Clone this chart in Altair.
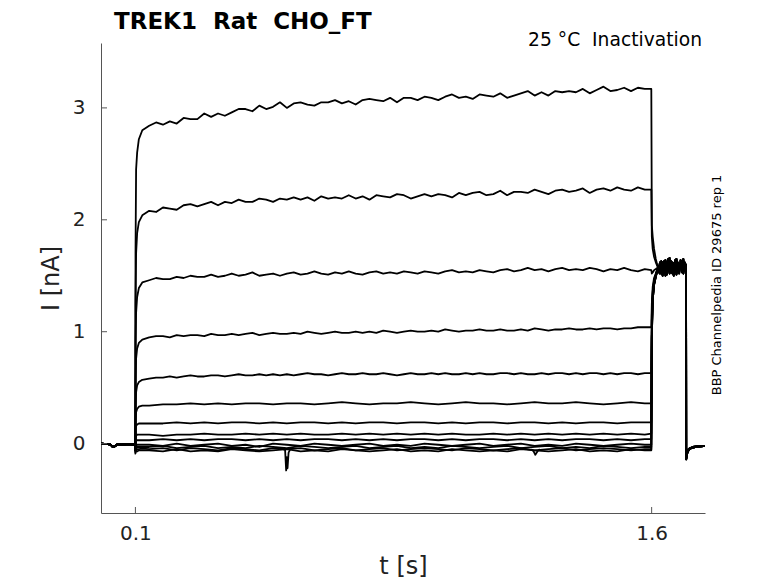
import altair as alt
import pandas as pd

# ---------------- data ----------------
NB = "\u00a0"
title_text = "TREK1" + NB * 2 + "Rat" + NB * 2 + "CHO_FT"
subtitle_text = "25 °C" + NB * 2 + "Inactivation"
side_text = "BBP Channelpedia ID 29675 rep 1"
x_ticks = [0.1, 1.6]
y_ticks = [0, 1, 2, 3]

# holding period before the step (shared by all sweeps)
pre_t = [0.0, 0.02, 0.028, 0.034, 0.04, 0.048, 0.06, 0.08, 0.0995]
pre_v = [0.0, -0.005, -0.01, -0.03, -0.025, -0.005, -0.01, -0.005, -0.01]

# activation onset
onset_t = [0.1, 0.1003, 0.102, 0.105, 0.11, 0.12]

# main step: fine sweeps sampled every 0.02 s from 0.14 s, coarse sweeps every 0.04 s
main_start = 0.14

sweep1 = [2.84, 2.87, 2.85, 2.88, 2.86, 2.91, 2.90, 2.90, 2.95, 2.92,
          2.95, 2.93, 2.96, 2.99, 2.99, 2.97, 3.02, 2.99, 3.01, 3.05,
          3.00, 3.04, 3.05, 3.03, 3.02, 3.05, 3.05, 3.07, 3.04, 3.06,
          3.03, 3.07, 3.08, 3.07, 3.06, 3.09, 3.05, 3.09, 3.09, 3.07,
          3.10, 3.09, 3.07, 3.10, 3.12, 3.09, 3.10, 3.08, 3.12, 3.11,
          3.10, 3.13, 3.09, 3.11, 3.13, 3.15, 3.11, 3.14, 3.11, 3.15,
          3.14, 3.15, 3.14, 3.17, 3.13, 3.16, 3.19, 3.15, 3.16, 3.18,
          3.15, 3.18, 3.17]
sweep2 = [2.08, 2.07, 2.11, 2.10, 2.09, 2.13, 2.14, 2.12, 2.14, 2.16,
          2.13, 2.16, 2.15, 2.18, 2.16, 2.16, 2.19, 2.18, 2.16, 2.19,
          2.18, 2.20, 2.18, 2.20, 2.17, 2.21, 2.19, 2.20, 2.19, 2.22,
          2.19, 2.21, 2.18, 2.22, 2.21, 2.20, 2.23, 2.22, 2.19, 2.21,
          2.23, 2.21, 2.23, 2.22, 2.20, 2.24, 2.22, 2.24, 2.25, 2.22,
          2.23, 2.26, 2.22, 2.25, 2.25, 2.24, 2.27, 2.25, 2.23, 2.26,
          2.27, 2.25, 2.26, 2.28, 2.24, 2.27, 2.28, 2.26, 2.29, 2.27,
          2.26, 2.29, 2.27]
sweep3 = [1.46, 1.48, 1.47, 1.47, 1.49, 1.48, 1.50, 1.49, 1.49, 1.51,
          1.49, 1.50, 1.52, 1.50, 1.51, 1.53, 1.50, 1.51, 1.52, 1.50,
          1.52, 1.53, 1.51, 1.52, 1.54, 1.52, 1.51, 1.53, 1.52, 1.54,
          1.52, 1.51, 1.53, 1.54, 1.52, 1.53, 1.52, 1.54, 1.53, 1.52,
          1.54, 1.53, 1.52, 1.54, 1.55, 1.53, 1.54, 1.53, 1.55, 1.54,
          1.53, 1.55, 1.56, 1.54, 1.55, 1.57, 1.55, 1.56, 1.54, 1.56,
          1.57, 1.55, 1.56, 1.55, 1.57, 1.56, 1.54, 1.56, 1.55, 1.57,
          1.55, 1.54, 1.56]
sweep4 = [0.95, 0.96, 0.96, 0.95, 0.97, 0.96, 0.97, 0.97, 0.96, 0.98,
          0.97, 0.97, 0.98, 0.97, 0.98, 0.99, 0.97, 0.98, 0.99, 0.98,
          0.98, 0.99, 0.98, 1.00, 0.99, 0.98, 0.99, 1.00, 0.99, 0.99,
          1.00, 0.99, 1.00, 0.99, 1.01, 1.00, 0.99, 1.00, 1.01, 1.00,
          1.00, 1.01, 1.00, 1.02, 1.01, 1.00, 1.01, 1.01, 1.02, 1.01,
          1.01, 1.02, 1.01, 1.01, 1.02, 1.01, 1.03, 1.02, 1.01, 1.02,
          1.02, 1.03, 1.02, 1.02, 1.03, 1.02, 1.03, 1.03, 1.02, 1.03,
          1.03, 1.04, 1.04]
sweep5 = [0.58, 0.59, 0.59, 0.60, 0.59, 0.60, 0.61, 0.60, 0.60, 0.61,
          0.61, 0.60, 0.61, 0.62, 0.61, 0.61, 0.62, 0.61, 0.62, 0.61,
          0.62, 0.61, 0.62, 0.63, 0.62, 0.62, 0.61, 0.62, 0.63, 0.62,
          0.62, 0.63, 0.62, 0.62, 0.63, 0.62, 0.61, 0.62, 0.63, 0.62,
          0.62, 0.63, 0.62, 0.63, 0.62, 0.62, 0.63, 0.62, 0.63, 0.62,
          0.62, 0.63, 0.63, 0.62, 0.63, 0.62, 0.62, 0.63, 0.62, 0.63,
          0.63, 0.62, 0.63, 0.62, 0.63, 0.63, 0.62, 0.63, 0.62, 0.63,
          0.63, 0.62, 0.63]
sweep6 = [0.34, 0.35, 0.35, 0.36, 0.35, 0.36, 0.35, 0.36, 0.36, 0.35,
          0.36, 0.36, 0.35, 0.36, 0.37, 0.36, 0.35, 0.36, 0.36, 0.37,
          0.36, 0.35, 0.36, 0.37, 0.36, 0.36, 0.35, 0.36, 0.37, 0.36,
          0.36, 0.37, 0.36, 0.35, 0.36, 0.37, 0.36]
sweep7 = [0.18, 0.18, 0.19, 0.18, 0.19, 0.18, 0.19, 0.19, 0.18, 0.19,
          0.18, 0.19, 0.19, 0.18, 0.19, 0.18, 0.19, 0.19, 0.18, 0.19,
          0.19, 0.18, 0.19, 0.18, 0.19, 0.19, 0.18, 0.19, 0.19, 0.18,
          0.19, 0.18, 0.19, 0.19, 0.18, 0.19, 0.19]
sweep8 = [0.08, 0.07, 0.08, 0.08, 0.09, 0.08, 0.08, 0.09, 0.08, 0.09,
          0.08, 0.09, 0.08, 0.08, 0.09, 0.08, 0.09, 0.08, 0.09, 0.08,
          0.09, 0.08, 0.09, 0.08, 0.08, 0.09, 0.08, 0.09, 0.08, 0.09,
          0.08, 0.09, 0.08, 0.09, 0.08, 0.09, 0.08]
sweep9 = [0.03, 0.04, 0.03, 0.04, 0.03, 0.04, 0.04, 0.03, 0.04, 0.03,
          0.04, 0.03, 0.04, 0.04, 0.03, 0.04, 0.03, 0.04, 0.03, 0.04,
          0.04, 0.03, 0.04, 0.03, 0.04, 0.04, 0.03, 0.04, 0.03, 0.04,
          0.03, 0.04, 0.04, 0.03, 0.04, 0.03, 0.04]
sweep10 = [-0.01, -0.02, 0.00, -0.02, -0.01, 0.00, -0.02, -0.01, -0.03, 0.00,
           -0.01, -0.02, 0.00, -0.01, -0.02, -0.01, 0.00, -0.02, -0.01, -0.02,
           0.00, -0.01, -0.02, -0.01, 0.00, -0.02, -0.01, 0.00, -0.02, -0.01,
           -0.02, 0.00, -0.01, -0.02, -0.01, 0.00, -0.01]
sweep11 = [-0.03, -0.02, -0.04, -0.03, -0.02, -0.04, -0.03, -0.04, -0.02, -0.03,
           -0.04, -0.02, -0.03, -0.04, -0.03, -0.02, -0.04, -0.03, -0.02, -0.04,
           -0.03, -0.04, -0.02, -0.03, -0.04, -0.03, -0.02, -0.04, -0.03, -0.02,
           -0.04, -0.03, -0.04, -0.02, -0.03, -0.04, -0.03]
sweep12 = [-0.05, -0.04, -0.06, -0.04, -0.05, -0.06, -0.04, -0.05, -0.06, -0.04,
           -0.05, -0.04, -0.06, -0.05, -0.04, -0.06, -0.05, -0.04, -0.06, -0.05,
           -0.04, -0.05, -0.06, -0.04, -0.05, -0.06, -0.05, -0.04, -0.06, -0.05,
           -0.04, -0.06, -0.05, -0.04, -0.05, -0.06, -0.05]
sweep13 = [-0.06, -0.07, -0.05, -0.07, -0.06, -0.07, -0.05, -0.06, -0.07, -0.06,
           -0.05, -0.07, -0.06, -0.07, -0.05, -0.06, -0.07, -0.06, -0.05, -0.07,
           -0.06, -0.07, -0.05, -0.06, -0.07, -0.06, -0.07, -0.05, -0.06, -0.07,
           -0.06, -0.05, -0.07, -0.06, -0.07, -0.05, -0.06]

main_sweeps = [sweep1, sweep2, sweep3, sweep4, sweep5, sweep6, sweep7,
               sweep8, sweep9, sweep10, sweep11, sweep12, sweep13]
main_steps = [0.02] * 5 + [0.04] * 8

onset_v = [
    [-0.06, 1.70, 2.45, 2.60, 2.72, 2.80],
    [-0.06, 1.25, 1.70, 1.88, 1.98, 2.04],
    [-0.06, 0.90, 1.17, 1.31, 1.39, 1.44],
    [-0.06, 0.55, 0.76, 0.85, 0.90, 0.93],
    [-0.06, 0.33, 0.46, 0.52, 0.55, 0.57],
    [-0.06, 0.20, 0.28, 0.31, 0.33, 0.34],
    [-0.06, 0.12, 0.16, 0.17, 0.18, 0.18],
    [-0.06, 0.05, 0.07, 0.08, 0.08, 0.08],
    [-0.06, 0.01, 0.03, 0.03, 0.03, 0.03],
    [-0.06, -0.03, -0.02, -0.01, -0.01, -0.01],
    [-0.07, -0.05, -0.04, -0.03, -0.03, -0.03],
    [-0.08, -0.06, -0.05, -0.05, -0.05, -0.045],
    [-0.09, -0.08, -0.07, -0.07, -0.06, -0.06],
]

# tail step (1.6 s - 1.7 s)
tail_t = [1.599, 1.6005, 1.603, 1.607, 1.612, 1.616]
tail_v = [
    [3.17, 1.95, 1.85, 1.74, 1.65, 1.60],
    [2.27, 1.85, 1.74, 1.67, 1.62, 1.59],
    [1.55, 1.52, 1.53, 1.55, 1.56, 1.57],
    [1.04, 1.25, 1.40, 1.48, 1.52, 1.55],
    [0.63, 1.15, 1.36, 1.46, 1.51, 1.55],
    [0.36, 1.10, 1.34, 1.45, 1.51, 1.55],
    [0.19, 1.05, 1.32, 1.44, 1.50, 1.55],
    [0.09, 1.00, 1.30, 1.43, 1.50, 1.55],
    [0.04, 1.00, 1.30, 1.43, 1.50, 1.55],
    [-0.01, 0.95, 1.28, 1.42, 1.49, 1.54],
    [-0.03, 0.95, 1.28, 1.42, 1.49, 1.54],
    [-0.05, 0.95, 1.28, 1.42, 1.49, 1.54],
    [-0.06, 0.95, 1.28, 1.42, 1.49, 1.54],
]
plateau_start = 1.62
plateau_step = 0.004
plateau_a = [1.55, 1.60, 1.52, 1.62, 1.54, 1.64, 1.51, 1.60, 1.56, 1.63, 1.52,
             1.61, 1.55, 1.65, 1.53, 1.60, 1.57, 1.63, 1.52, 1.62, 1.58]
plateau_b = [1.58, 1.52, 1.63, 1.55, 1.61, 1.50, 1.62, 1.54, 1.66, 1.53, 1.60,
             1.55, 1.64, 1.51, 1.62, 1.56, 1.61, 1.53, 1.65, 1.55, 1.60]
plateau_c = [1.53, 1.62, 1.56, 1.50, 1.63, 1.57, 1.54, 1.65, 1.52, 1.58, 1.62,
             1.50, 1.59, 1.63, 1.55, 1.52, 1.64, 1.57, 1.54, 1.61, 1.56]
plateaus = [plateau_a, plateau_b, plateau_c]

# return to holding
post_t = [1.7004, 1.703, 1.707, 1.712, 1.72, 1.73, 1.745, 1.755]
post_a = [-0.14, -0.09, -0.06, -0.045, -0.035, -0.03, -0.025, -0.02]
post_b = [-0.12, -0.07, -0.05, -0.04, -0.03, -0.025, -0.02, -0.02]
posts = [post_a, post_b]

# short artefacts in the near-zero sweeps
spike_t = [0.530, 0.535, 0.538, 0.540, 0.542, 0.545, 0.55]
spike_v = [-0.05, -0.06, -0.24, -0.12, -0.22, -0.08, -0.05]
dip_t = [1.25, 1.257, 1.262, 1.268, 1.275]
dip_v = [-0.05, -0.07, -0.10, -0.07, -0.05]

# ---------------- build long table ----------------
rows = []
for k in range(len(main_sweeps)):
    name = f"s{k+1}"
    seq = []
    seq += list(zip(pre_t, pre_v))
    seq += list(zip(onset_t, onset_v[k]))
    step = main_steps[k]
    seq += [(round(main_start + step * i, 4), v) for i, v in enumerate(main_sweeps[k])]
    seq += list(zip(tail_t, tail_v[k]))
    pl = plateaus[k % 3]
    seq += [(round(plateau_start + plateau_step * i, 4), v) for i, v in enumerate(pl)]
    seq += list(zip(post_t, posts[k % 2]))
    for j, (t, v) in enumerate(seq):
        rows.append({"sweep": name, "o": j, "t": t, "v": v})
for j, (t, v) in enumerate(zip(spike_t, spike_v)):
    rows.append({"sweep": "spike", "o": j, "t": t, "v": v})
for j, (t, v) in enumerate(zip(dip_t, dip_v)):
    rows.append({"sweep": "dip", "o": j, "t": t, "v": v})
df = pd.DataFrame(rows)

W, H = 604, 470
xscale = alt.Scale(domain=[0, 1.755], nice=False, zero=False)
yscale = alt.Scale(domain=[-0.62, 3.58], nice=False, zero=False)

lines = alt.Chart(df).mark_line(color="black", strokeWidth=1.8, clip=True,
                                strokeJoin="round").encode(
    x=alt.X("t:Q", scale=xscale,
            axis=alt.Axis(values=x_ticks, format=".1f", ticks=False, grid=False,
                          labelFontSize=20, labelPadding=10, labelColor="#222",
                          domainColor="#555", title="t [s]", titleFontSize=24,
                          titleFontWeight="normal", titleColor="#222", titlePadding=11)),
    y=alt.Y("v:Q", scale=yscale,
            axis=alt.Axis(values=y_ticks, format="d", ticks=False, grid=False,
                          labelFontSize=20, labelPadding=16, labelColor="#222",
                          domainColor="#555", title="I [nA]", titleFontSize=24,
                          titleFontWeight="normal", titleColor="#222", titlePadding=9)),
    detail="sweep:N",
    order="o:Q",
)

ytick_df = pd.DataFrame({"v": y_ticks})
yticks = alt.Chart(ytick_df).mark_rule(color="#555", strokeWidth=1).encode(
    y=alt.Y("v:Q", scale=yscale), x=alt.value(0), x2=alt.value(6))
xtick_df = pd.DataFrame({"t": x_ticks})
xticks = alt.Chart(xtick_df).mark_rule(color="#555", strokeWidth=1).encode(
    x=alt.X("t:Q", scale=xscale), y=alt.value(H), y2=alt.value(H - 6))

title = alt.Chart(pd.DataFrame({"s": [title_text]})).mark_text(
    align="left", baseline="alphabetic", fontSize=23, fontWeight="bold", color="black"
).encode(text="s:N", x=alt.value(13), y=alt.value(-14))

subtitle = alt.Chart(pd.DataFrame({"s": [subtitle_text]})).mark_text(
    align="right", baseline="alphabetic", fontSize=18.7, color="black"
).encode(text="s:N", x=alt.value(601), y=alt.value(3))

side = alt.Chart(pd.DataFrame({"s": [side_text]})).mark_text(
    align="center", baseline="middle", fontSize=13, angle=270, color="black"
).encode(text="s:N", x=alt.value(616), y=alt.value(242))

chart = alt.layer(lines, yticks, xticks, title, subtitle, side).properties(
    width=W, height=H,
    autosize=alt.AutoSizeParams(type="none"),
    padding={"left": 93, "top": 35, "right": 60, "bottom": 70},
).configure(font="DejaVu Sans").configure_view(stroke=None)

chart.save("out.html", embed_options={"renderer": "svg", "actions": False})
